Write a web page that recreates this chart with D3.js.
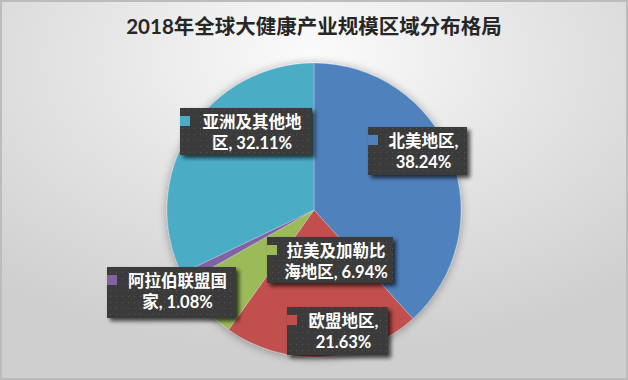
<!DOCTYPE html>
<html><head><meta charset="utf-8">
<script src="https://cdn.jsdelivr.net/npm/d3@7/dist/d3.min.js"></script>
<style>html,body{margin:0;padding:0;background:#fff;}svg{display:block;}</style>
</head><body>
<svg id="chart" width="628" height="380"></svg>
<script>
const title = "2018年全球大健康产业规模区域分布格局";
const categories = ["北美地区", "欧盟地区", "拉美及加勒比海地区", "阿拉伯联盟国家", "亚洲及其他地区"];
const values = [38.24, 21.63, 6.94, 1.08, 32.11];
const colors = ["#4F81BD", "#C0504D", "#9BBB59", "#8064A2", "#4BACC6"];

// label layout (box position/size and line break index)
const labelLayout = [
  {x: 368, y: 127, w: 99, h: 48, brk: 5},
  {x: 287, y: 307, w: 101, h: 48, brk: 5},
  {x: 267, y: 237, w: 126, h: 46, brk: 6},
  {x: 107, y: 267, w: 129, h: 51, brk: 6},
  {x: 180, y: 108, w: 132, h: 47, brk: 6}
];

const W = 628, H = 380;
const svg = d3.select("#chart");
const defs = svg.append("defs");

const bg = defs.append("radialGradient").attr("id","bg")
  .attr("cx","50%").attr("cy","18%").attr("r","75%").attr("fx","50%").attr("fy","14%");
bg.append("stop").attr("offset","0%").attr("stop-color","#fbfbfb");
bg.append("stop").attr("offset","45%").attr("stop-color","#e6e6e6");
bg.append("stop").attr("offset","100%").attr("stop-color","#cfcfcf");

const pat = defs.append("pattern").attr("id","dots").attr("patternUnits","userSpaceOnUse")
  .attr("width",6).attr("height",6);
pat.append("rect").attr("width",6).attr("height",6).attr("fill","#3b3b3b");
pat.append("rect").attr("x",2).attr("y",2).attr("width",1).attr("height",1).attr("fill","#545454");

const sh = defs.append("filter").attr("id","boxsh").attr("x","-20%").attr("y","-20%").attr("width","150%").attr("height","150%");
sh.append("feGaussianBlur").attr("in","SourceAlpha").attr("stdDeviation",2).attr("result","b");
sh.append("feOffset").attr("in","b").attr("dx",3).attr("dy",3).attr("result","o");
sh.append("feComponentTransfer").attr("in","o").attr("result","o2")
  .append("feFuncA").attr("type","linear").attr("slope",0.7);
const m1 = sh.append("feMerge"); m1.append("feMergeNode").attr("in","o2"); m1.append("feMergeNode").attr("in","SourceGraphic");

const psh = defs.append("filter").attr("id","piesh").attr("x","-20%").attr("y","-20%").attr("width","140%").attr("height","140%");
psh.append("feGaussianBlur").attr("in","SourceAlpha").attr("stdDeviation",5).attr("result","b");
psh.append("feOffset").attr("in","b").attr("dx",0).attr("dy",1).attr("result","o");
psh.append("feComponentTransfer").attr("in","o").attr("result","o2")
  .append("feFuncA").attr("type","linear").attr("slope",0.35);
const m2 = psh.append("feMerge"); m2.append("feMergeNode").attr("in","o2"); m2.append("feMergeNode").attr("in","SourceGraphic");

svg.append("rect").attr("width",W).attr("height",H).attr("fill","url(#bg)");
svg.append("rect").attr("x",1).attr("y",1).attr("width",W-2).attr("height",H-2)
  .attr("fill","none").attr("stroke","#bcbcbc").attr("stroke-width",2);

svg.append("text").attr("x",314).attr("y",34).attr("text-anchor","middle")
  .attr("font-family","Lato, 'Noto Sans CJK SC', sans-serif").attr("font-weight","bold")
  .attr("font-size",20.5).attr("fill","#262626").text(title);

const cx = 314, cy = 210, R = 147;
const pie = d3.pie().sort(null).value(d => d)(values);
const arc = d3.arc().innerRadius(0).outerRadius(R);
const g = svg.append("g").attr("transform",`translate(${cx},${cy})`).attr("filter","url(#piesh)");
g.selectAll("path").data(pie).join("path")
  .attr("d", arc).attr("fill", (d,i) => colors[i])
  .attr("stroke","rgba(255,255,255,0.35)").attr("stroke-width",0.7);

const fmt = d3.format(".2f");
const lg = svg.append("g");
pie.forEach((d,i) => {
  const L = labelLayout[i];
  const full = categories[i] + ", " + fmt(values[i]) + "%";
  const l1 = full.slice(0, L.brk), l2 = full.slice(L.brk).trim();
  const b = lg.append("g");
  b.append("rect").attr("x",L.x).attr("y",L.y).attr("width",L.w).attr("height",L.h)
    .attr("fill","url(#dots)").attr("filter","url(#boxsh)");
  b.append("rect").attr("x",L.x).attr("y",L.y+8).attr("width",10).attr("height",10).attr("fill",colors[i]);
  const tx = L.x + L.w/2 + 6;
  const t = b.append("text").attr("text-anchor","middle")
    .attr("font-family","Lato, 'Noto Sans CJK SC', sans-serif").attr("font-weight","bold")
    .attr("font-size",16.5).attr("fill","#ffffff");
  t.append("tspan").attr("x",tx).attr("y",L.y+20).text(l1);
  t.append("tspan").attr("x",tx).attr("y",L.y+41).text(l2);
});
</script>
</body></html>
